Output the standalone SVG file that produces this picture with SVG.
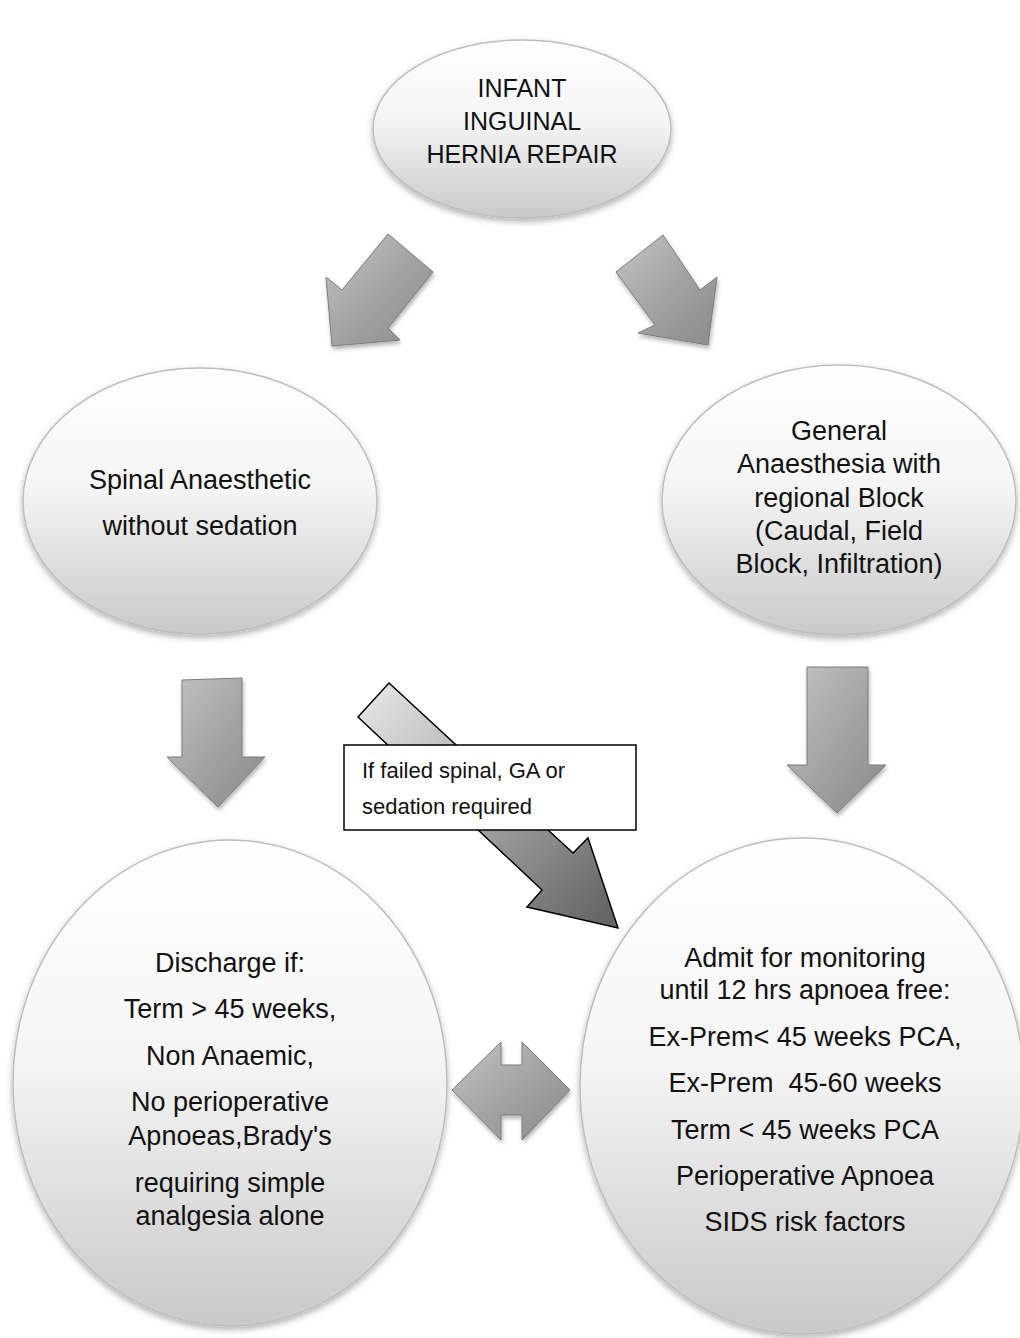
<svg xmlns="http://www.w3.org/2000/svg" width="1020" height="1338" viewBox="0 0 1020 1338">
<style>
.t{font-family:"Liberation Sans",Arial,sans-serif;fill:#111;text-anchor:middle}
.n{font-size:27px}
.top{font-size:25px}
.lbl{font-family:"Liberation Sans",Arial,sans-serif;fill:#111;font-size:22px}
.node{fill:url(#ng);stroke:#bdbdbd;stroke-width:1.5;filter:url(#sh)}
.blk{fill:url(#ag);stroke:#7c7c7c;stroke-width:1;filter:url(#ash)}
</style>
<defs>
<linearGradient id="ng" x1="0" y1="0" x2="0" y2="1">
<stop offset="0" stop-color="#ffffff"/>
<stop offset="0.45" stop-color="#f5f5f5"/>
<stop offset="1" stop-color="#c9c9c9"/>
</linearGradient>
<linearGradient id="ag" x1="0" y1="0" x2="1" y2="1">
<stop offset="0" stop-color="#c4c4c4"/>
<stop offset="0.5" stop-color="#a4a4a4"/>
<stop offset="1" stop-color="#8a8a8a"/>
</linearGradient>
<linearGradient id="dg" gradientUnits="userSpaceOnUse" x1="370" y1="700" x2="600" y2="920">
<stop offset="0" stop-color="#e2e2e2"/>
<stop offset="1" stop-color="#666666"/>
</linearGradient>
<filter id="sh" x="-10%" y="-10%" width="120%" height="125%">
<feDropShadow dx="0" dy="3" stdDeviation="3" flood-color="#000" flood-opacity="0.3"/>
</filter>
<filter id="ash" x="-20%" y="-20%" width="140%" height="140%">
<feDropShadow dx="1" dy="3" stdDeviation="2" flood-color="#000" flood-opacity="0.3"/>
</filter>
</defs>
<rect width="1020" height="1338" fill="#ffffff"/>

<g id="connectors">
<polygon class="blk" points="332,346 326,277 342,290 388,234 433,272 388,328 400,340"/>
<polygon class="blk" points="616,272 663,235 700,290 717,277 708,345 638,333 655,325"/>
<polygon class="blk" points="182,680 242,678 242,757 265,757 218,807 167,757 182,757"/>
<polygon class="blk" points="807,667 868,667 868,765 886,765 837,813 787,765 807,765"/>
<polygon class="blk" points="452,1090 501,1042 501,1065 522,1065 522,1042 570,1090 522,1140 522,1115 501,1115 501,1140"/>
<g id="failed-arrow">
<polygon points="358,717 389,683 573,853 588,838 618,928 527,907 542,890" fill="url(#dg)" stroke="#000" stroke-width="1.5" stroke-linejoin="miter"/>
<rect x="344" y="745" width="292" height="85" fill="#ffffff" stroke="#000" stroke-width="1.5"/>
<text class="lbl" x="362" y="778">If failed spinal, GA or</text>
<text class="lbl" x="362" y="814">sedation required</text>
</g>
</g>

<g id="node-infant">
<ellipse class="node" cx="522" cy="129" rx="149" ry="89"/>
<text class="t top" x="522" y="97">INFANT</text>
<text class="t top" x="522" y="130">INGUINAL</text>
<text class="t top" x="522" y="163">HERNIA REPAIR</text>
</g>

<g id="node-spinal">
<ellipse class="node" cx="200" cy="501" rx="177" ry="133"/>
<text class="t n" x="200" y="489">Spinal Anaesthetic</text>
<text class="t n" x="200" y="535">without sedation</text>
</g>

<g id="node-ga">
<ellipse class="node" cx="839" cy="500" rx="177" ry="135"/>
<text class="t n" x="839" y="440">General</text>
<text class="t n" x="839" y="473">Anaesthesia with</text>
<text class="t n" x="839" y="507">regional Block</text>
<text class="t n" x="839" y="540">(Caudal, Field</text>
<text class="t n" x="839" y="573">Block, Infiltration)</text>
</g>

<g id="node-discharge">
<ellipse class="node" cx="230" cy="1083" rx="217" ry="243"/>
<text class="t n" x="230" y="972">Discharge if:</text>
<text class="t n" x="230" y="1018">Term &gt; 45 weeks,</text>
<text class="t n" x="230" y="1065">Non Anaemic,</text>
<text class="t n" x="230" y="1111">No perioperative</text>
<text class="t n" x="230" y="1145">Apnoeas,Brady's</text>
<text class="t n" x="230" y="1192">requiring simple</text>
<text class="t n" x="230" y="1225">analgesia alone</text>
</g>

<g id="node-admit">
<ellipse class="node" cx="802" cy="1086" rx="222" ry="248"/>
<text class="t n" x="805" y="967">Admit for monitoring</text>
<text class="t n" x="805" y="999">until 12 hrs apnoea free:</text>
<text class="t n" x="805" y="1046">Ex-Prem&lt; 45 weeks PCA,</text>
<text class="t n" x="805" y="1092" xml:space="preserve">Ex-Prem  45-60 weeks</text>
<text class="t n" x="805" y="1139">Term &lt; 45 weeks PCA</text>
<text class="t n" x="805" y="1185">Perioperative Apnoea</text>
<text class="t n" x="805" y="1231">SIDS risk factors</text>
</g>
</svg>
